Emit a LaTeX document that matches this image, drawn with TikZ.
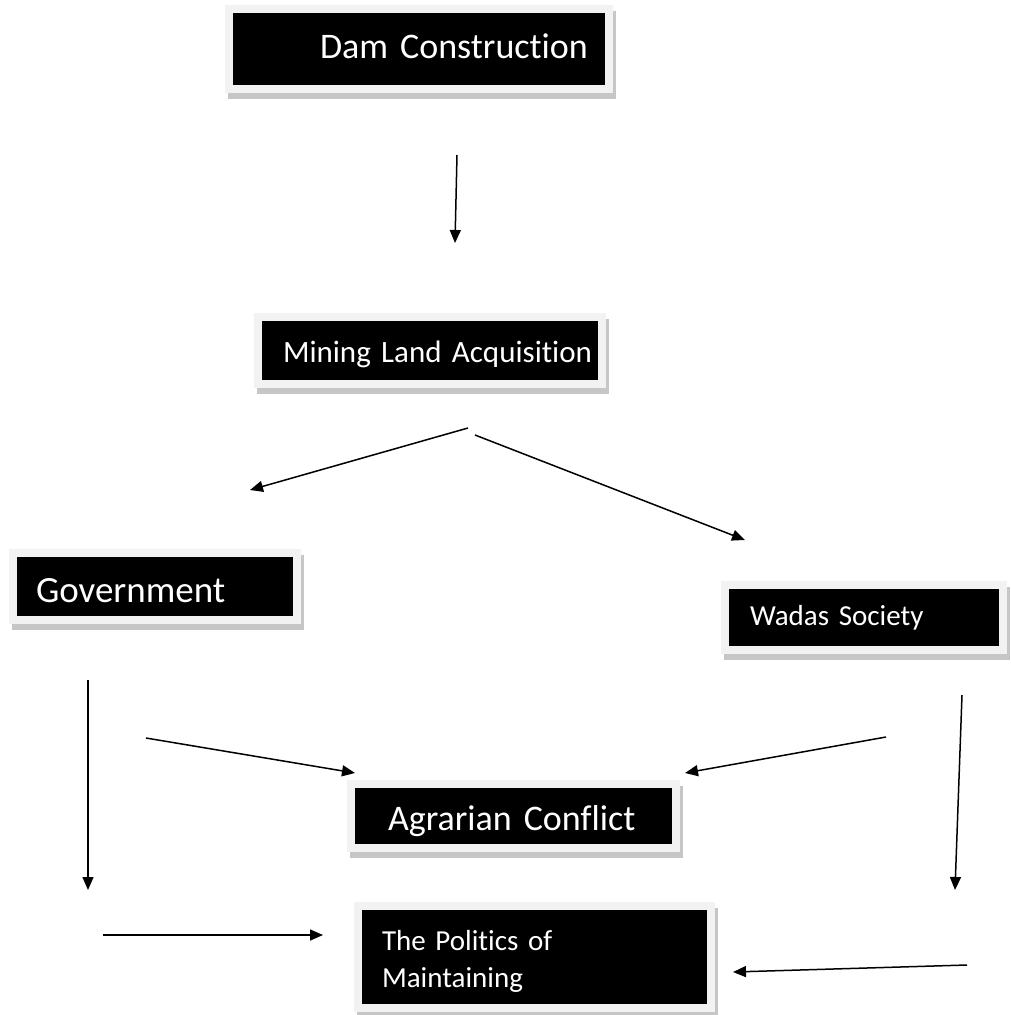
\documentclass[tikz,border=0pt]{standalone}
\usepackage{fontspec}
\setmainfont{Carlito}[Ligatures={NoCommon}]
\usetikzlibrary{arrows.meta}
\usetikzlibrary{shadows}
\tikzset{>={Triangle[width=11pt,length=13pt]}}
\tikzset{
  blackbox/.style={draw=gray!10, line width=8pt, fill=black, text=white,
    inner xsep=4pt, inner ysep=0pt, align=left,
    drop shadow={shadow xshift=3pt, shadow yshift=-6pt, fill=gray!45,
      draw=gray!45, line width=8pt, opacity=1}},
  link/.style={line width=1.5pt, black, ->}
}

\begin{document}
\begin{tikzpicture}[x=1pt,y=-1pt]

  \useasboundingbox (0,0) rectangle (1010,1015);

  % boxes
  \node[blackbox, text width=372pt, minimum height=80pt, text height=26pt, text depth=8pt,
    font=\fontsize{36}{43}\selectfont]
    (dam) at (419,49) {\hspace*{87pt}Dam Construction};
  \node[blackbox, text width=336pt, minimum height=67pt, text height=25pt, text depth=2pt,
    font=\fontsize{31}{37}\selectfont]
    (mining) at (430,350.5) {\hspace*{21pt}Mining Land Acquisition};
  \node[blackbox, text width=276pt, minimum height=67pt, text height=31pt, text depth=0pt,
    font=\fontsize{37}{44}\selectfont]
    (gov) at (155,586.5) {\hspace*{19pt}Government};
  \node[blackbox, text width=270pt, minimum height=65pt, text height=21pt, text depth=6pt,
    font=\fontsize{29}{35}\selectfont]
    (wadas) at (864,617.5) {\hspace*{21pt}Wadas Society};
  \node[blackbox, text width=317pt, minimum height=64pt, text height=28pt, text depth=0pt,
    font=\fontsize{36}{43}\selectfont]
    (agrarian) at (513.5,816) {\hspace*{33pt}Agrarian Conflict};
  \node[blackbox, text width=345pt, minimum height=102pt, text height=31pt, text depth=45pt,
    font=\fontsize{29}{37}\selectfont]
    (politics) at (534.5,957) {\hspace*{20pt}The Politics of\\\hspace*{20pt}Maintaining};

  % arrow ends
  \coordinate (damfoot) at (457,155);
  \coordinate (mininghead) at (455,243);
  \coordinate (splitleft) at (468,428);
  \coordinate (govhead) at (250,490);
  \coordinate (splitright) at (475,435);
  \coordinate (wadashead) at (745,540);
  \coordinate (govfoot) at (146,738);
  \coordinate (conflictleft) at (355,773);
  \coordinate (wadasfoot) at (886,737);
  \coordinate (conflictright) at (685,773);
  \coordinate (govdown) at (88,680);
  \coordinate (govbottom) at (88,890);
  \coordinate (wadasdown) at (962,695);
  \coordinate (wadasbottom) at (955,890);
  \coordinate (leftstart) at (103,935);
  \coordinate (politicsleft) at (323,935);
  \coordinate (rightstart) at (967,965);
  \coordinate (politicsright) at (733,972);

  \draw[link] (damfoot) -- (mininghead);
  \draw[link] (splitleft) -- (govhead);
  \draw[link] (splitright) -- (wadashead);
  \draw[link] (govfoot) -- (conflictleft);
  \draw[link] (wadasfoot) -- (conflictright);
  \draw[link] (govdown) -- (govbottom);
  \draw[link] (wadasdown) -- (wadasbottom);
  \draw[link] (leftstart) -- (politicsleft);
  \draw[link] (rightstart) -- (politicsright);

\end{tikzpicture}
\end{document}
